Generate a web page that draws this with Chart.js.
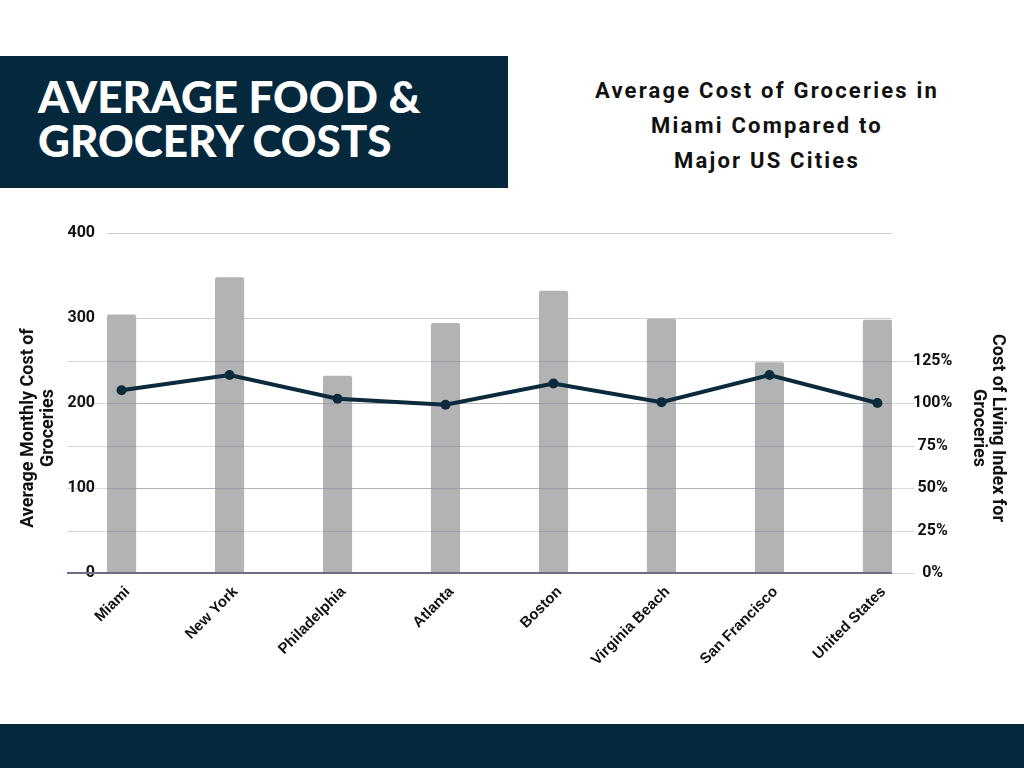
<!DOCTYPE html>
<html>
<head>
<meta charset="utf-8">
<script src="https://cdn.jsdelivr.net/npm/chart.js@4.4.1/dist/chart.umd.min.js"></script>
<style>
  html, body { margin: 0; padding: 0; background: #ffffff; }
  body { width: 1024px; height: 768px; position: relative; overflow: hidden; }
  #banner { position: absolute; left: 0; top: 56px; width: 508px; height: 132px; background: #06283d; }
  #banner h1 { margin: 0; position: absolute; left: 38px; top: 18px; color: #ffffff;
    font-family: Lato, sans-serif; font-weight: 900; font-size: 44px; line-height: 44px; letter-spacing: 0px; }
  #subtitle { position: absolute; left: 567px; top: 73px; width: 400px; text-align: center; color: #111111;
    font-family: Roboto, sans-serif; font-weight: 700; font-size: 22px; line-height: 35px; letter-spacing: 2.2px; }
  #footer { position: absolute; left: 0; top: 724px; width: 1024px; height: 44px; background: #06283d; }
  #wrap { position: absolute; left: 0; top: 200px; width: 1024px; height: 524px; }
</style>
</head>
<body>
<div id="banner"><h1>AVERAGE FOOD &amp;<br>GROCERY COSTS</h1></div>
<div id="subtitle">Average Cost of Groceries in<br>Miami Compared to<br>Major US Cities</div>
<div id="wrap"><canvas id="c" width="1024" height="524"></canvas></div>
<div id="footer"></div>
<script>
const categories = ["Miami", "New York", "Philadelphia", "Atlanta", "Boston", "Virginia Beach", "San Francisco", "United States"];
const monthlyCost = [304, 348, 232, 294, 332, 299, 248, 298];
const costIndex = [107.5, 116.5, 102.5, 99, 111.5, 100.5, 116.5, 100];
const leftTicks = [0, 100, 200, 300, 400];
const rightTicks = [0, 25, 50, 75, 100, 125];
const leftTitle = ["Average Monthly Cost of", "Groceries"];
const rightTitle = ["Cost of Living Index for", "Groceries"];

const NAVY = "#0b2a3b";

const extrasPlugin = {
  id: "extras",
  afterDatasetDraw(chart, args) {
    if (args.index !== 0) return;
    const ctx = chart.ctx;
    const y1 = chart.scales.y1;
    const area = chart.chartArea;
    ctx.save();
    ctx.lineWidth = 1;
    ctx.strokeStyle = "rgba(100,90,160,0.26)";
    rightTicks.forEach(v => {
      const py = Math.round(y1.getPixelForValue(v)) + 0.5;
      ctx.beginPath();
      ctx.moveTo(67, py);
      ctx.lineTo(914, py);
      ctx.stroke();
    });
    const py0 = y1.getPixelForValue(0);
    ctx.strokeStyle = "#6e6d82";
    ctx.lineWidth = 2;
    ctx.beginPath();
    ctx.moveTo(67, py0);
    ctx.lineTo(area.right, py0);
    ctx.stroke();
    ctx.restore();
  },
  afterDraw(chart) {
    const ctx = chart.ctx;
    const cy = 228;
    ctx.save();
    ctx.fillStyle = "#111111";
    ctx.font = "bold 18px Roboto";
    ctx.textAlign = "center";
    ctx.textBaseline = "middle";
    ctx.save();
    ctx.translate(28, cy);
    ctx.rotate(-Math.PI / 2);
    ctx.fillText(leftTitle[0], 0, 0);
    ctx.fillText(leftTitle[1], 0, 20);
    ctx.restore();
    ctx.save();
    ctx.translate(997, cy);
    ctx.rotate(Math.PI / 2);
    ctx.fillText(rightTitle[0], 0, 0);
    ctx.fillText(rightTitle[1], 0, 19);
    ctx.restore();
    ctx.restore();
  }
};

new Chart(document.getElementById("c"), {
  type: "bar",
  data: {
    datasets: [
      {
        type: "bar",
        label: "Average Monthly Cost of Groceries",
        data: categories.map((c, i) => ({ x: i, y: monthlyCost[i] })),
        backgroundColor: "#b3b3b3",
        borderRadius: 2,
        borderSkipped: "bottom",
        categoryPercentage: 1,
        barPercentage: 0.27,
        yAxisID: "y",
        order: 1
      },
      {
        type: "line",
        label: "Cost of Living Index for Groceries",
        data: categories.map((c, i) => ({ x: i, y: costIndex[i] })),
        borderColor: NAVY,
        backgroundColor: NAVY,
        borderWidth: 4,
        pointRadius: 5,
        pointHoverRadius: 5,
        pointBackgroundColor: NAVY,
        pointBorderWidth: 0,
        tension: 0,
        yAxisID: "y1",
        order: 0
      }
    ]
  },
  options: {
    responsive: false,
    animation: false,
    devicePixelRatio: 1,
    layout: { padding: { top: 33, left: 0, right: 0, bottom: 0 } },
    plugins: { legend: { display: false }, tooltip: { enabled: false }, title: { display: false } },
    scales: {
      x: {
        type: "linear",
        offset: false,
        min: -0.135,
        max: 7.135,
        afterBuildTicks(scale) { scale.ticks = categories.map((c, i) => ({ value: i })); },
        afterFit(scale) { scale.height = 151; },
        grid: { display: false, drawTicks: false, offset: false },
        border: { display: false },
        ticks: {
          autoSkip: false,
          maxRotation: 45,
          minRotation: 45,
          padding: 10,
          labelOffset: 6,
          color: "#111111",
          font: { family: "Liberation Sans", weight: "bold", size: 15 },
          callback: (v) => categories[v]
        }
      },
      y: {
        position: "left",
        min: 0,
        max: 400,
        afterBuildTicks(scale) { scale.ticks = leftTicks.map(v => ({ value: v })); },
        afterFit(scale) { scale.width = 107; },
        grid: { color: "#cdcdcd", lineWidth: 1, drawTicks: false },
        border: { display: false },
        ticks: {
          padding: 12,
          color: "#111111",
          font: { family: "Roboto", weight: "bold", size: 16 }
        }
      },
      y1: {
        position: "right",
        min: 0,
        max: 200,
        afterBuildTicks(scale) { scale.ticks = rightTicks.map(v => ({ value: v })); },
        afterFit(scale) { scale.width = 132; },
        grid: { display: false, drawTicks: false },
        border: { display: false },
        ticks: {
          padding: 21,
          crossAlign: "center",
          color: "#111111",
          font: { family: "Roboto", weight: "bold", size: 16 },
          callback: (v) => v + "%"
        }
      }
    }
  },
  plugins: [extrasPlugin]
});
</script>
</body>
</html>
